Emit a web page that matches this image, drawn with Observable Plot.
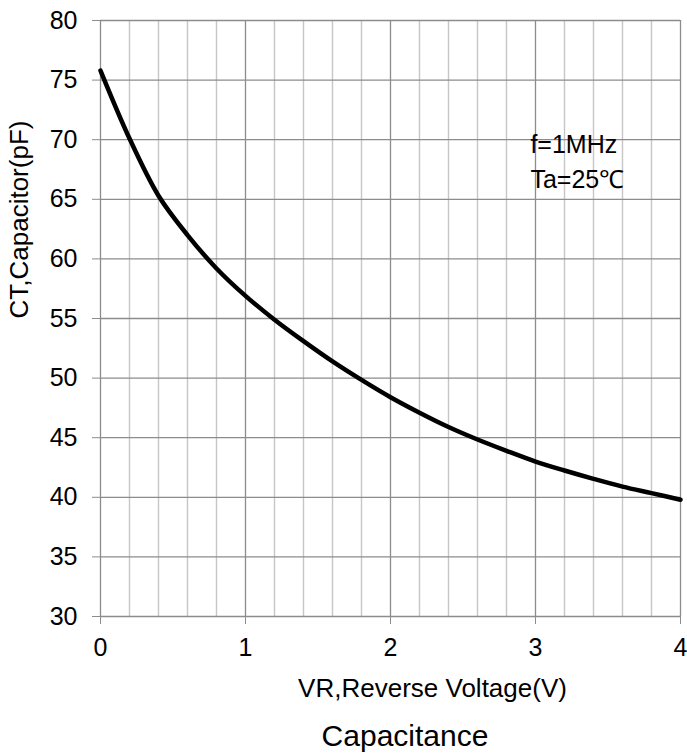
<!DOCTYPE html>
<html>
<head>
<meta charset="utf-8">
<script src="https://cdn.jsdelivr.net/npm/d3@7"></script>
<script src="https://cdn.jsdelivr.net/npm/@observablehq/plot@0.6"></script>
<style>
  html, body { margin: 0; padding: 0; background: #fff; }
  body { width: 687px; font-family: "Liberation Sans", Arial, sans-serif; }
  #title { width: 687px; box-sizing: border-box; padding-left: 123px; text-align: center;
           font-size: 30px; line-height: 36px; margin-top: 6px; color: #000; }
</style>
</head>
<body>
<div id="chart"></div>
<div id="title">Capacitance</div>
<script>
// Reverse voltage (V) and capacitance (pF)
const voltage = [0, 0.2, 0.4, 0.6, 0.8, 1.0, 1.2, 1.4, 1.6, 1.8, 2.0, 2.2, 2.4, 2.6, 2.8, 3.0, 3.2, 3.4, 3.6, 3.8, 4.0];
const capacitance = [75.8, 70.1, 65.3, 62.0, 59.2, 56.9, 54.9, 53.1, 51.4, 49.85, 48.4, 47.1, 45.9, 44.85, 43.9, 43.0, 42.25, 41.55, 40.9, 40.35, 39.8];

const xMajorTicks = [0, 1, 2, 3, 4];
const xMinorTicks = [0.2, 0.4, 0.6, 0.8, 1.2, 1.4, 1.6, 1.8, 2.2, 2.4, 2.6, 2.8, 3.2, 3.4, 3.6, 3.8];
const yTicks = [30, 35, 40, 45, 50, 55, 60, 65, 70, 75, 80];

const xLabel = "VR,Reverse Voltage(V)";
const yLabel = "CT,Capacitor(pF)";
const annotation = ["f=1MHz", "Ta=25℃"];

const data = voltage.map((v, i) => ({v, c: capacitance[i]}));

const font = "'Liberation Sans', Arial, sans-serif";
const major = "#8c8c8c";
const minor = "#c6c6c6";

const chart = Plot.plot({
  width: 687,
  height: 712,
  marginTop: 20,
  marginLeft: 100,
  marginRight: 7,
  marginBottom: 96,
  style: {fontFamily: font, background: "#fff", color: "#000"},
  x: {domain: [0, 4], axis: null},
  y: {domain: [30, 80], axis: null},
  marks: [
    Plot.ruleX(xMinorTicks, {stroke: minor, strokeWidth: 1.4}),
    Plot.ruleX(xMajorTicks, {stroke: major, strokeWidth: 1.3}),
    Plot.ruleY(yTicks, {stroke: major, strokeWidth: 1.3}),
    Plot.axisX({ticks: xMajorTicks, tickSize: 8, tickPadding: 14, fontSize: 25, stroke: major, fill: "#000", label: null, tickFormat: d => String(d)}),
    Plot.axisY({ticks: yTicks, tickSize: 8, tickPadding: 15, fontSize: 25, stroke: major, fill: "#000", label: null, tickFormat: d => String(d)}),
    Plot.line(data, {x: "v", y: "c", curve: "catmull-rom", stroke: "#000", strokeWidth: 4.5}),
    Plot.text([annotation.join("\n")], {x: () => 2.965, y: () => 71.0, textAnchor: "start", lineAnchor: "top", lineHeight: 1.42, fontSize: 25, fill: "#000"}),
    Plot.text([xLabel], {frameAnchor: "bottom", dx: 42, dy: 72, fontSize: 26, fill: "#000", lineAnchor: "middle"}),
    Plot.text([yLabel], {frameAnchor: "left", dx: -81, rotate: -90, fontSize: 26, fill: "#000", lineAnchor: "middle"})
  ]
});
document.getElementById("chart").appendChild(chart);
</script>
</body>
</html>
